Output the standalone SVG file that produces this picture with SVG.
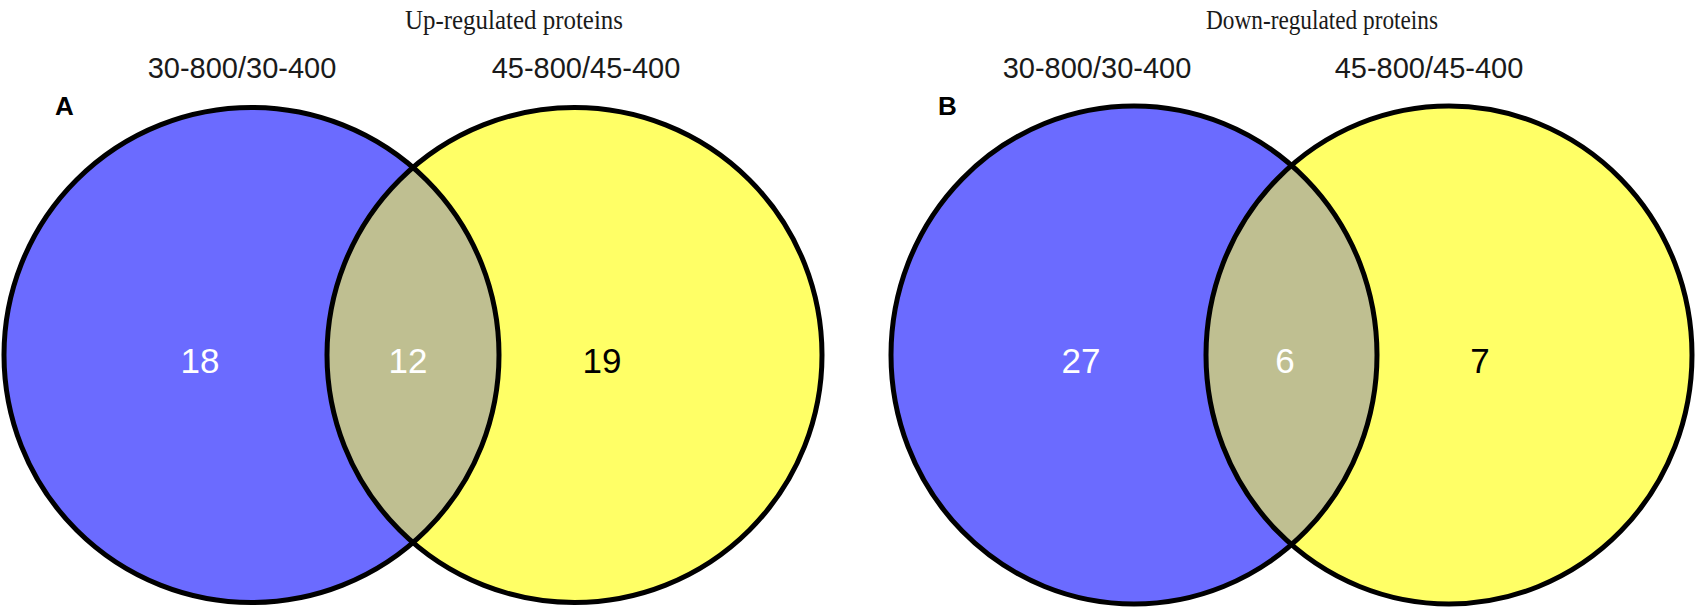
<svg xmlns="http://www.w3.org/2000/svg" width="1700" height="609" viewBox="0 0 1700 609">
  <style>
    .title { font-family: "Liberation Serif", "Times New Roman", serif; font-size: 27px; fill: #1a1a1a; text-anchor: middle; }
    .set { font-family: "Liberation Sans", Arial, sans-serif; font-size: 29px; fill: #1a1a1a; text-anchor: middle; }
    .panel { font-family: "Liberation Sans", Arial, sans-serif; font-size: 26px; font-weight: bold; fill: #000; }
    .num { font-family: "Liberation Sans", Arial, sans-serif; font-size: 35px; text-anchor: middle; }
    .white { fill: #ffffff; }
    .black { fill: #000000; }
    .blue { fill: #6b6bff; }
    .yellow { fill: #ffff66; }
    .both { fill: #bfbf91; }
    .outline { fill: none; stroke: #000; stroke-width: 5; }
  </style>
  <defs>
    <clipPath id="clipA"><circle cx="251.5" cy="355" r="247.5"/></clipPath>
    <clipPath id="clipB"><ellipse cx="1134" cy="355" rx="243" ry="249"/></clipPath>
  </defs>

  <rect x="0" y="0" width="1700" height="609" fill="#ffffff"/>

  <g id="panelA">
    <text class="title" x="514" y="29" textLength="218" lengthAdjust="spacingAndGlyphs">Up-regulated proteins</text>
    <text class="set" x="242" y="78">30-800/30-400</text>
    <text class="set" x="586" y="78">45-800/45-400</text>
    <text class="panel" x="55" y="115">A</text>
    <g id="A-left">
      <circle class="blue" cx="251.5" cy="355" r="247.5"/>
    </g>
    <g id="A-right">
      <circle class="yellow" cx="574.5" cy="355" r="247.5"/>
    </g>
    <g id="A-overlap">
      <circle class="both" cx="574.5" cy="355" r="247.5" clip-path="url(#clipA)"/>
    </g>
    <g id="A-outlines">
      <circle class="outline" cx="251.5" cy="355" r="247.5"/>
      <circle class="outline" cx="574.5" cy="355" r="247.5"/>
    </g>
    <text class="num white" x="200" y="373">18</text>
    <text class="num white" x="408" y="373">12</text>
    <text class="num black" x="602" y="373">19</text>
  </g>

  <g id="panelB">
    <text class="title" x="1322" y="29" textLength="232" lengthAdjust="spacingAndGlyphs">Down-regulated proteins</text>
    <text class="set" x="1097" y="78">30-800/30-400</text>
    <text class="set" x="1429" y="78">45-800/45-400</text>
    <text class="panel" x="938" y="115">B</text>
    <g id="B-left">
      <ellipse class="blue" cx="1134" cy="355" rx="243" ry="249"/>
    </g>
    <g id="B-right">
      <ellipse class="yellow" cx="1449" cy="355" rx="243" ry="249"/>
    </g>
    <g id="B-overlap">
      <ellipse class="both" cx="1449" cy="355" rx="243" ry="249" clip-path="url(#clipB)"/>
    </g>
    <g id="B-outlines">
      <ellipse class="outline" cx="1134" cy="355" rx="243" ry="249"/>
      <ellipse class="outline" cx="1449" cy="355" rx="243" ry="249"/>
    </g>
    <text class="num white" x="1081" y="373">27</text>
    <text class="num white" x="1285" y="373">6</text>
    <text class="num black" x="1480" y="373">7</text>
  </g>
</svg>
